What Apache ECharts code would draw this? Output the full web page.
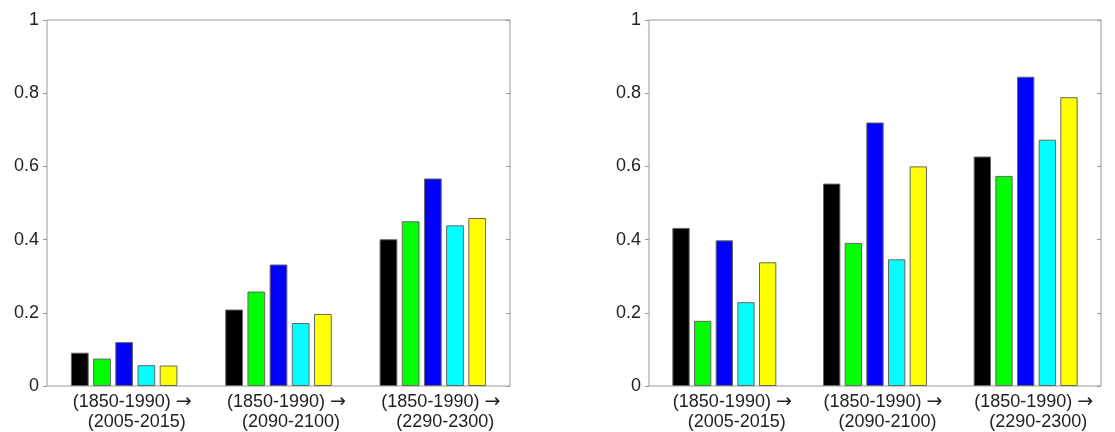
<!DOCTYPE html>
<html>
<head>
<meta charset="utf-8">
<script src="https://cdn.jsdelivr.net/npm/echarts@6/dist/echarts.min.js"></script>
<style>html,body{margin:0;padding:0;background:#fff}#c{width:1115px;height:432px}</style>
</head>
<body>
<div id="c"></div>
<script>
const baseline = '(1850-1990)';
const targets = ['(2005-2015)', '(2090-2100)', '(2290-2300)'];
const yTicks = [0, 0.2, 0.4, 0.6, 0.8, 1];
const seriesNames = ['Series 1', 'Series 2', 'Series 3', 'Series 4', 'Series 5'];
const seriesColors = ['#000000', '#00ff00', '#0000ff', '#00ffff', '#ffff00'];

// Left panel values (one array per series, one value per period)
const leftS1 = [0.091, 0.209, 0.401];
const leftS2 = [0.075, 0.258, 0.450];
const leftS3 = [0.120, 0.332, 0.567];
const leftS4 = [0.057, 0.172, 0.439];
const leftS5 = [0.056, 0.197, 0.459];

// Right panel values
const rightS1 = [0.432, 0.553, 0.627];
const rightS2 = [0.178, 0.391, 0.574];
const rightS3 = [0.398, 0.720, 0.845];
const rightS4 = [0.229, 0.346, 0.673];
const rightS5 = [0.338, 0.600, 0.789];

const leftData = [leftS1, leftS2, leftS3, leftS4, leftS5];
const rightData = [rightS1, rightS2, rightS3, rightS4, rightS5];

const FONT = 'Liberation Sans, Arial, Helvetica, sans-serif';
const TXT = '#222';
const FRAME = '#999';

const chart = echarts.init(document.getElementById('c'), null, {renderer: 'canvas'});

function xAxisFor(gi) {
  return {
    type: 'category', gridIndex: gi, data: targets,
    axisLine: {show: false}, axisTick: {show: false},
    axisLabel: {
      interval: 0, margin: 6, padding: [0, 0, 0, 16],
      formatter: (v) => '{a|' + baseline + ' }{r|\u2192}\n{b|' + v + '}',
      rich: {
        a: {fontFamily: FONT, fontSize: 18, color: TXT, lineHeight: 20},
        r: {fontFamily: 'DejaVu Sans', fontSize: 19, color: TXT, lineHeight: 20},
        b: {fontFamily: FONT, fontSize: 18, color: TXT, lineHeight: 20, padding: [0, 0, 0, 9]}
      }
    }
  };
}
function yLeftFor(gi) {
  return {
    type: 'value', gridIndex: gi, min: 0, max: 1, interval: 0.2,
    axisLine: {show: false},
    axisTick: {show: true, inside: false, length: 4, lineStyle: {color: FRAME}},
    splitLine: {show: false},
    axisLabel: {fontFamily: FONT, fontSize: 18, color: TXT, margin: 8,
      formatter: (v) => String(yTicks.find(t => Math.abs(t - v) < 1e-9) ?? v)}
  };
}
function yRightFor(gi) {
  return {
    type: 'value', gridIndex: gi, position: 'right', min: 0, max: 1, interval: 0.2,
    axisLine: {show: false},
    axisTick: {show: true, inside: true, length: 4, lineStyle: {color: FRAME}},
    splitLine: {show: false}, axisLabel: {show: false}
  };
}

const series = [];
[leftData, rightData].forEach((panel, gi) => {
  panel.forEach((vals, si) => {
    series.push({
      type: 'bar', name: seriesNames[si], xAxisIndex: gi, yAxisIndex: gi * 2,
      data: vals, barWidth: '11.5%', barGap: '25%',
      itemStyle: {color: seriesColors[si], borderColor: '#666', borderWidth: 1},
      emphasis: {disabled: true}, silent: true
    });
  });
});

chart.setOption({
  animation: false,
  backgroundColor: '#fff',
  grid: [
    {left: 47, right: 605, top: 20, bottom: 46, show: true, borderColor: FRAME, borderWidth: 1},
    {left: 649, right: 14, top: 20, bottom: 46, show: true, borderColor: FRAME, borderWidth: 1}
  ],
  xAxis: [xAxisFor(0), xAxisFor(1)],
  yAxis: [yLeftFor(0), yRightFor(0), yLeftFor(1), yRightFor(1)],
  series: series
});
</script>
</body>
</html>
